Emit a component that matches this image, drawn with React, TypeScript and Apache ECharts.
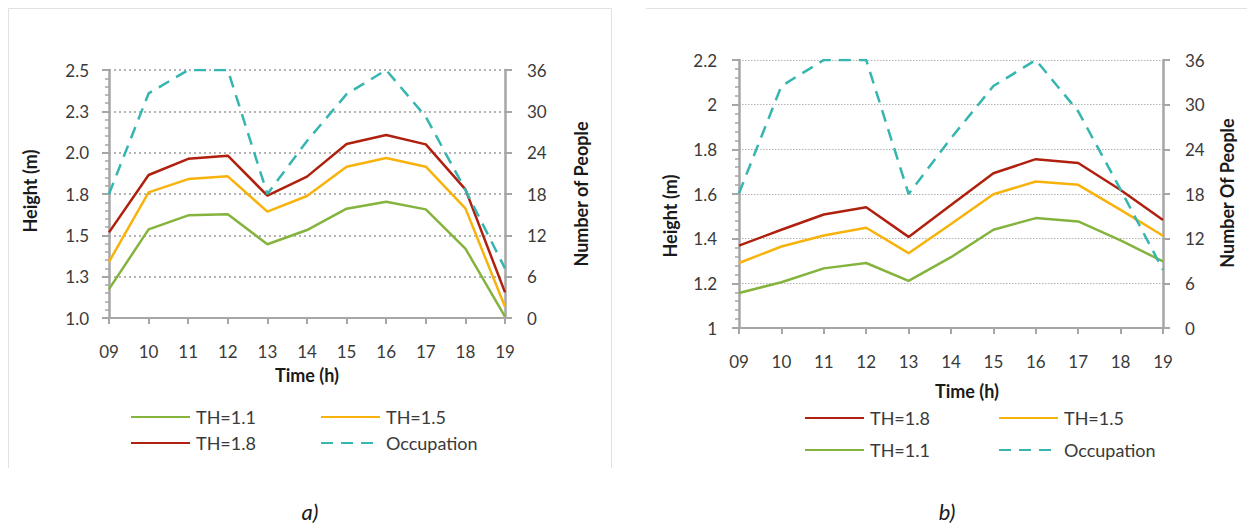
import React, { useEffect, useRef } from "react";
import * as echarts from "echarts";

const hours = ["09", "10", "11", "12", "13", "14", "15", "16", "17", "18", "19"];

// Panel a
const aTH11 = [1.175, 1.536, 1.621, 1.627, 1.446, 1.532, 1.661, 1.703, 1.657, 1.42, 1.008];
const aTH15 = [1.34, 1.76, 1.84, 1.857, 1.643, 1.738, 1.915, 1.968, 1.915, 1.663, 1.068];
const aTH18 = [1.518, 1.865, 1.963, 1.982, 1.74, 1.855, 2.052, 2.107, 2.05, 1.778, 1.155];
const aOccupation = [18, 32.6, 36, 36, 18, 25.7, 32.5, 36, 29.2, 18.6, 7.2];
const aHeightTicks = ["1.0", "1.3", "1.5", "1.8", "2.0", "2.3", "2.5"];

// Panel b
const bTH18 = [1.369, 1.44, 1.508, 1.541, 1.408, 1.551, 1.693, 1.756, 1.739, 1.618, 1.484];
const bTH15 = [1.291, 1.365, 1.414, 1.449, 1.335, 1.466, 1.599, 1.656, 1.641, 1.529, 1.413];
const bTH11 = [1.157, 1.205, 1.267, 1.291, 1.211, 1.317, 1.44, 1.492, 1.477, 1.392, 1.298];
const bOccupation = [18.1, 32.5, 36, 36, 18, 25.5, 32.5, 36, 29.1, 18.6, 7.8];

const GREEN = "#84b33e";
const ORANGE = "#f7b30c";
const RED = "#b0200f";
const TEAL = "#35b6b0";
const FONT = "Lato";
const AXIS_GRAY = "#a6a6a6";
const TXT = "#3a3a3a";
const TICK_FS = 17;

export default function App() {
  const ref = useRef<HTMLDivElement>(null);
  useEffect(() => {
    const chart = echarts.init(ref.current!, undefined, { renderer: "svg" });

    const solid = (name: string, data: number[], color: string, xi: number, yi: number) => ({
      name,
      type: "line",
      data,
      xAxisIndex: xi,
      yAxisIndex: yi,
      symbol: "none",
      showSymbol: false,
      lineStyle: { color, width: 2.5 },
      itemStyle: { color },
      z: 3,
    });
    const dashed = (name: string, data: number[], xi: number, yi: number) => ({
      name,
      type: "line",
      data,
      xAxisIndex: xi,
      yAxisIndex: yi,
      symbol: "none",
      showSymbol: false,
      lineStyle: { color: TEAL, width: 2.5, type: [12, 8] },
      itemStyle: { color: TEAL },
      z: 4,
    });

    const xAxisBase = (gi: number, margin: number) => ({
      type: "category",
      gridIndex: gi,
      data: hours,
      boundaryGap: false,
      axisLine: { show: true, lineStyle: { color: AXIS_GRAY, width: 2 } },
      axisTick: { show: true, length: 6, lineStyle: { color: AXIS_GRAY, width: 2 } },
      axisLabel: { color: TXT, fontSize: TICK_FS, fontFamily: FONT, margin, interval: 0 },
      splitLine: { show: false },
    });

    const legendItem = (name: string, left: number, cy: number) => ({
      data: [{ name, itemStyle: { opacity: 0 } }],
      left,
      top: cy - 9,
      orient: "horizontal",
      padding: 0,
      itemGap: 0,
      itemWidth: 59,
      itemHeight: 14,
      selectedMode: false,
      itemStyle: { opacity: 0 },
      textStyle: { color: TXT, fontSize: 18, fontFamily: FONT, padding: [0, 0, 0, 1] },
    });

    const rotText = (text: string, x: number, y: number) => ({
      type: "text",
      x,
      y,
      rotation: Math.PI / 2,
      style: {
        text,
        fontFamily: FONT,
        fontWeight: "bold",
        fontSize: 18,
        fill: "#1a1a1a",
        textAlign: "center",
        textVerticalAlign: "middle",
      },
    });
    const plainText = (text: string, x: number, y: number, extra: any = {}) => ({
      type: "text",
      x,
      y,
      style: {
        text,
        fontFamily: FONT,
        fontWeight: "bold",
        fontSize: 18,
        fill: "#1a1a1a",
        textAlign: "center",
        textVerticalAlign: "middle",
        ...extra,
      },
    });

    chart.setOption({
      animation: false,
      backgroundColor: "#ffffff",
      grid: [
        { left: 109, top: 70, width: 396, height: 248 },
        { left: 739, top: 60, width: 424, height: 268 },
      ],
      xAxis: [xAxisBase(0, 25), xAxisBase(1, 25)],
      yAxis: [
        {
          type: "value",
          gridIndex: 0,
          min: 1,
          max: 2.5,
          interval: 0.25,
          position: "left",
          axisLine: { show: true, lineStyle: { color: AXIS_GRAY, width: 2.5 } },
          axisTick: { show: true, length: 7, lineStyle: { color: AXIS_GRAY, width: 2 } },
          minorTick: { show: true, splitNumber: 5, length: 4, lineStyle: { color: AXIS_GRAY, width: 1.5 } },
          axisLabel: {
            color: TXT,
            fontSize: TICK_FS,
            fontFamily: FONT,
            margin: 20,
            formatter: (v: number) => aHeightTicks[Math.round((v - 1) / 0.25)] ?? "",
          },
          splitLine: { show: true, lineStyle: { color: "#b3b3b3", width: 2, type: [2, 3] } },
        },
        {
          type: "value",
          gridIndex: 0,
          min: 0,
          max: 36,
          interval: 6,
          position: "right",
          axisLine: { show: true, lineStyle: { color: AXIS_GRAY, width: 2.5 } },
          axisTick: { show: true, length: 7, lineStyle: { color: AXIS_GRAY, width: 2 } },
          axisLabel: { color: TXT, fontSize: TICK_FS, fontFamily: FONT, margin: 22 },
          splitLine: { show: false },
        },
        {
          type: "value",
          gridIndex: 1,
          min: 1,
          max: 2.2,
          interval: 0.2,
          position: "left",
          axisLine: { show: true, lineStyle: { color: AXIS_GRAY, width: 2.5 } },
          axisTick: { show: true, length: 7, lineStyle: { color: AXIS_GRAY, width: 2 } },
          minorTick: { show: true, splitNumber: 5, length: 4, lineStyle: { color: AXIS_GRAY, width: 1.5 } },
          axisLabel: { color: TXT, fontSize: TICK_FS, fontFamily: FONT, margin: 22 },
          splitLine: { show: true, lineStyle: { color: "#b3b3b3", width: 1.2, type: [1.5, 1.5] } },
        },
        {
          type: "value",
          gridIndex: 1,
          min: 0,
          max: 36,
          interval: 6,
          position: "right",
          axisLine: { show: true, lineStyle: { color: AXIS_GRAY, width: 2.5 } },
          axisTick: { show: true, length: 7, lineStyle: { color: AXIS_GRAY, width: 2 } },
          axisLabel: { color: TXT, fontSize: TICK_FS, fontFamily: FONT, margin: 22 },
          splitLine: { show: false },
        },
      ],
      legend: [
        legendItem("TH=1.1", 130, 417),
        legendItem("TH=1.5", 320, 417),
        legendItem("TH=1.8", 130, 443),
        legendItem("Occupation", 320, 443),
        legendItem("TH=1.8", 804, 418),
        legendItem("TH=1.5", 998, 418),
        legendItem("TH=1.1", 804, 450),
        legendItem("Occupation", 998, 450),
      ],
      series: [
        solid("TH=1.1", aTH11, GREEN, 0, 0),
        solid("TH=1.5", aTH15, ORANGE, 0, 0),
        solid("TH=1.8", aTH18, RED, 0, 0),
        dashed("Occupation", aOccupation, 0, 1),
        solid("TH=1.8", bTH18, RED, 1, 2),
        solid("TH=1.5", bTH15, ORANGE, 1, 2),
        solid("TH=1.1", bTH11, GREEN, 1, 2),
        dashed("Occupation", bOccupation, 1, 3),
      ],
      graphic: [
        {
          type: "polyline",
          shape: { points: [[8.5, 468], [8.5, 8.5], [611.5, 8.5], [611.5, 468]] },
          style: { stroke: "#e2e2e2", fill: "none", lineWidth: 1 },
          silent: true,
        },
        {
          type: "line",
          shape: { x1: 646, y1: 8.5, x2: 1247, y2: 8.5 },
          style: { stroke: "#e2e2e2", lineWidth: 1 },
          silent: true,
        },
        rotText("Height (m)", 30, 191),
        rotText("Number of People", 581, 194),
        plainText("Time (h)", 307, 375),
        rotText("Height (m)", 670, 216),
        rotText("Number Of People", 1227, 193),
        plainText("Time (h)", 967, 391),
        plainText("a)", 310, 511, { fontWeight: "normal", fontStyle: "italic", fontSize: 22 }),
        plainText("b)", 947, 511, { fontWeight: "normal", fontStyle: "italic", fontSize: 22 }),
      ],
    });
    return () => chart.dispose();
  }, []);

  return (
    <div
      ref={ref}
      style={{ position: "absolute", left: 0, top: 0, width: 1247, height: 526 }}
    />
  );
}
